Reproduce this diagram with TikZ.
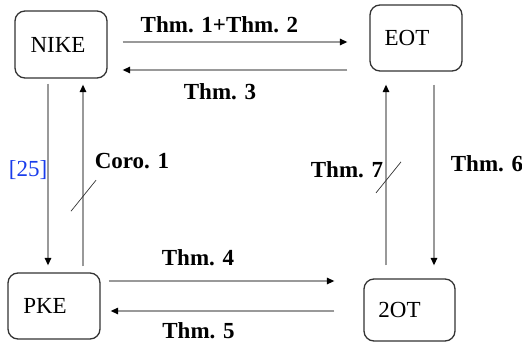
\documentclass[tikz,border=0pt]{standalone}
\usepackage{fontspec}
\setmainfont{Liberation Serif}
\usetikzlibrary{arrows.meta,calc}
\definecolor{linegray}{gray}{0.6}
\definecolor{boxedge}{gray}{0.2}
\definecolor{refblue}{RGB}{25,60,235}
\begin{document}
\begin{tikzpicture}[x=1pt,y=-1pt,
  box/.style={draw=boxedge, line width=1.3pt, rounded corners=10pt,
    minimum width=92pt, minimum height=66pt, inner sep=0pt,
    font=\fontsize{23}{27}\selectfont},
  conn/.style={draw=linegray, line width=1.3pt,
    -{Triangle[length=7.5pt,width=6.5pt,black]}},
  lbl/.style={font=\fontsize{23}{27}\selectfont\bfseries, inner sep=0pt},
  cite/.style={font=\fontsize{23}{27}\selectfont, text=refblue, inner sep=0pt},
  slash/.style={draw=boxedge, line width=0.7pt}]
\useasboundingbox (0,0) rectangle (522,343);

% the four primitives
\node[box, minimum height=67pt] (nike) at (61,44.5) {NIKE\kern6pt};
\node[box] (eot) at (416,38) {EOT\kern18pt};
\node[box] (pke) at (54,306) {PKE\kern18pt};
\node[box, minimum width=91pt, minimum height=62pt] (tot) at (409.5,310) {2OT\kern20pt};

% top pair
\draw[conn] ([shift={(15,-2.5)}]nike.east) --
  node[lbl, xshift=-15.5pt, yshift=17pt] {Thm. 1+Thm. 2}
  ([shift={(-22,4)}]eot.west);
\draw[conn] ([shift={(-22,32)}]eot.west) --
  node[lbl, xshift=-15pt, yshift=-22pt] {Thm. 3}
  ([shift={(15,25.5)}]nike.east);

% bottom pair
\draw[conn] ([shift={(8,-25)}]pke.east) --
  node[lbl, xshift=-23.5pt, yshift=23pt] {Thm. 4}
  ([shift={(-29,-29)}]tot.west);
\draw[conn] ([shift={(-29,1)}]tot.west) --
  node[lbl, xshift=-24pt, yshift=-20pt] {Thm. 5}
  ([shift={(10,5)}]pke.east);

% left pair
\draw[conn] ([shift={(-13,5)}]nike.south) --
  node[cite, xshift=-20pt, yshift=4pt] {[25]}
  ([shift={(-6,-7)}]pke.north);
\draw[conn] ([shift={(29,-6)}]pke.north) --
  coordinate[pos=0.386] (k1)
  node[lbl, xshift=49pt, yshift=14.5pt] {Coro. 1}
  ([shift={(22,6)}]nike.south);
\draw[slash] ($(k1)+(-12,15)$) -- ($(k1)+(13,-16)$);

% right pair
\draw[conn] ([shift={(-23.5,-13)}]tot.north) --
  coordinate[pos=0.484] (k2)
  node[lbl, xshift=-39pt, yshift=5pt] {Thm. 7}
  ([shift={(-30,13)}]eot.south);
\draw[slash] ($(k2)+(-10,15)$) -- ($(k2)+(15,-16)$);
\draw[conn] ([shift={(18,13)}]eot.south) --
  node[lbl, xshift=53pt, yshift=11pt] {Thm. 6}
  ([shift={(24.5,-13)}]tot.north);
\end{tikzpicture}
\end{document}
